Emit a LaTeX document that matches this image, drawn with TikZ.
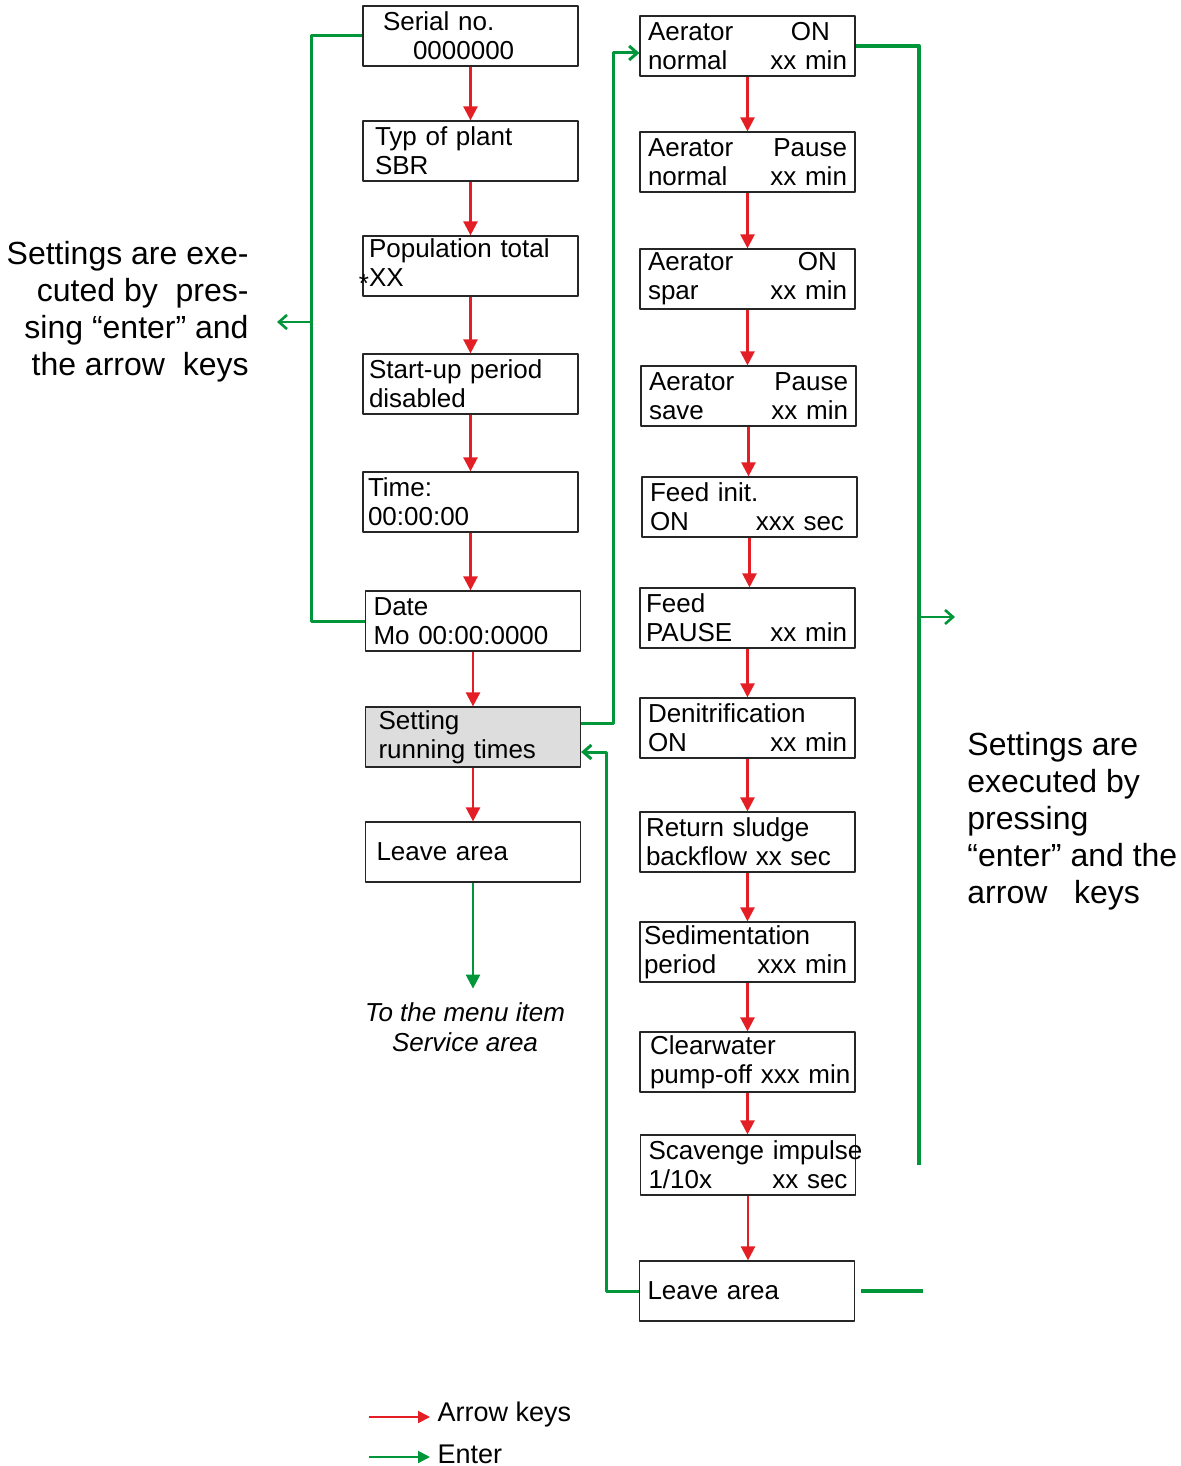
\documentclass[tikz,border=0pt]{standalone}
\usepackage{fontspec}
\setmainfont{Liberation Sans}
\usetikzlibrary{arrows.meta}
\definecolor{keyred}{RGB}{227,30,36}
\definecolor{entergreen}{RGB}{0,150,57}
\definecolor{boxgray}{RGB}{221,221,221}
\begin{document}
\begin{tikzpicture}[x=.5pt,y=-.5pt,line join=round,
	box/.style={draw=black!85,line width=.6pt,minimum height=30pt,text width=99.5pt,inner xsep=4pt,inner ysep=0pt,align=left,font=\fontsize{13}{14.5}\selectfont},
	key/.style={keyred,line width=1.2pt,-{Triangle[length=7pt,width=7pt]}},
	enter/.style={entergreen,line width=1.3pt},
	open/.style={-{Straight Barb[length=4pt,width=7pt]}},
	note/.style={font=\fontsize{16}{18.5}\selectfont,inner sep=0pt},
	legend/.style={right,text=black,font=\fontsize{13.5}{15}\selectfont}]
	\useasboundingbox (0,0) rectangle (1181,1466);
	% left column
	\node[box] (l1) at (470.5,36) {\hspace*{6pt}Serial no.\\\hspace*{21pt}0000000};
	\node[box] (l2) at (470.5,151) {\hspace*{2pt}Typ of plant\\\hspace*{2pt}SBR};
	\node[box] (l3) at (470.5,266) {\hspace*{-1pt}Population total\\\hspace*{-1pt}\llap{\raisebox{-3pt}{*}}XX};
	\node[box] (l4) at (470.5,384) {\hspace*{-1pt}Start-up period\\\hspace*{-1pt}disabled};
	\node[box] (l5) at (470.5,502) {\hspace*{-1.5pt}Time:\\\hspace*{-1.5pt}00:00:00};
	\node[box] (l6) at (473,621) {Date\\Mo 00:00:0000};
	\node[box,fill=boxgray] (l7) at (473,737) {\hspace*{2.5pt}Setting\\\hspace*{2.5pt}running times};
	\node[box] (l8) at (473,852) {\hspace*{1.5pt}Leave area};
	\node[font=\itshape\fontsize{13}{15}\selectfont,align=center] (menu) at (465,1027) {To the menu item\\Service area};
	% right column
	\node[box] (r1) at (747.5,46) {Aerator\hfill ON\kern8.5pt\\normal\hfill xx min};
	\node[box] (r2) at (747.5,162) {Aerator\hfill Pause\\normal\hfill xx min};
	\node[box] (r3) at (747.5,279) {Aerator\hfill ON\kern5pt\\spar\hfill xx min};
	\node[box] (r4) at (748.5,396) {Aerator\hfill Pause\\save\hfill xx min};
	\node[box] (r5) at (749.5,507) {Feed init.\\ON\hfill xxx sec\kern2.5pt};
	\node[box] (r6) at (747.5,618) {\hspace*{-1pt}Feed\\\hspace*{-1pt}PAUSE\hfill xx min};
	\node[box] (r7) at (747.5,728) {Denitrification\\ON\hfill xx min};
	\node[box] (r8) at (747.5,842) {\hspace*{-1pt}Return sludge\\\hspace*{-1pt}\mbox{backflow xx sec}};
	\node[box] (r9) at (747.5,952) {\hspace*{-2pt}Sedimentation\\\hspace*{-2pt}period\hfill xxx min};
	\node[box] (r10) at (747.5,1062) {\hspace*{1pt}Clearwater\\\hspace*{1pt}\mbox{pump-off xxx min}};
	\node[box] (r11) at (748,1165) {\mbox{Scavenge impulse}\\1/10x\hfill xx sec};
	\node[box] (r12) at (747,1291) {Leave area};
	% notes
	\node[note,align=right,anchor=east] (ltxt) at (249,312) {Settings are exe-\\cuted by\ \ pres-\\sing “enter” and\\the arrow\ \ keys};
	\node[note,align=left,anchor=west] (rtxt) at (967,821) {Settings are\\executed by\\pressing\\“enter” and the\\arrow\ \ \ keys};
	% arrow keys
	\foreach \i/\j in {l1/l2,l2/l3,l3/l4,l4/l5,l5/l6,l6/l7,l7/l8,r1/r2,r2/r3,r3/r4,r4/r5,r5/r6,r6/r7,r7/r8,r8/r9,r9/r10,r10/r11,r11/r12}
	\draw[key] (\i.south) -- (\i.south|-\j.north);
	% enter
	\coordinate (lk) at (311,322); \coordinate (lt) at (277,322);
	\coordinate (rk) at (919,617); \coordinate (rt) at (955,617);
	\draw[enter,line width=1.5pt] (l1.west) -| (lk) |- (l6.west);
	\draw[enter,open] (lk) -- (lt);
	\draw[enter,line width=2pt] (r1.east) -| (rk) -- (919,1165);
	\draw[enter,open] (rk) -- (rt);
	\draw[enter,line width=1.5pt,open] ([yshift=7pt]l7.east) -- ++(32,0) |- ([yshift=-3.5pt]r1.west);
	\draw[enter,line width=1.5pt,open] (r12.west) -- ++(-32,0) |- ([yshift=-7.5pt]l7.east);
	\draw[enter,line width=2pt] ([xshift=3pt]r12.east) -- ++(62,0);
	\draw[enter,-{Triangle[length=7pt,width=7pt]}] (l8.south) -- ++(0,106);
	% legend
	\draw[key,line width=1pt,-{Triangle[length=6pt,width=6pt]}] (369,1417) -- (430,1417) node[legend,yshift=1pt] (k1) {Arrow keys};
	\draw[enter,line width=1pt,-{Triangle[length=6pt,width=6pt]}] (369,1457) -- (430,1457) node[legend,yshift=1.5pt] (k2) {Enter};
\end{tikzpicture}
\end{document}
